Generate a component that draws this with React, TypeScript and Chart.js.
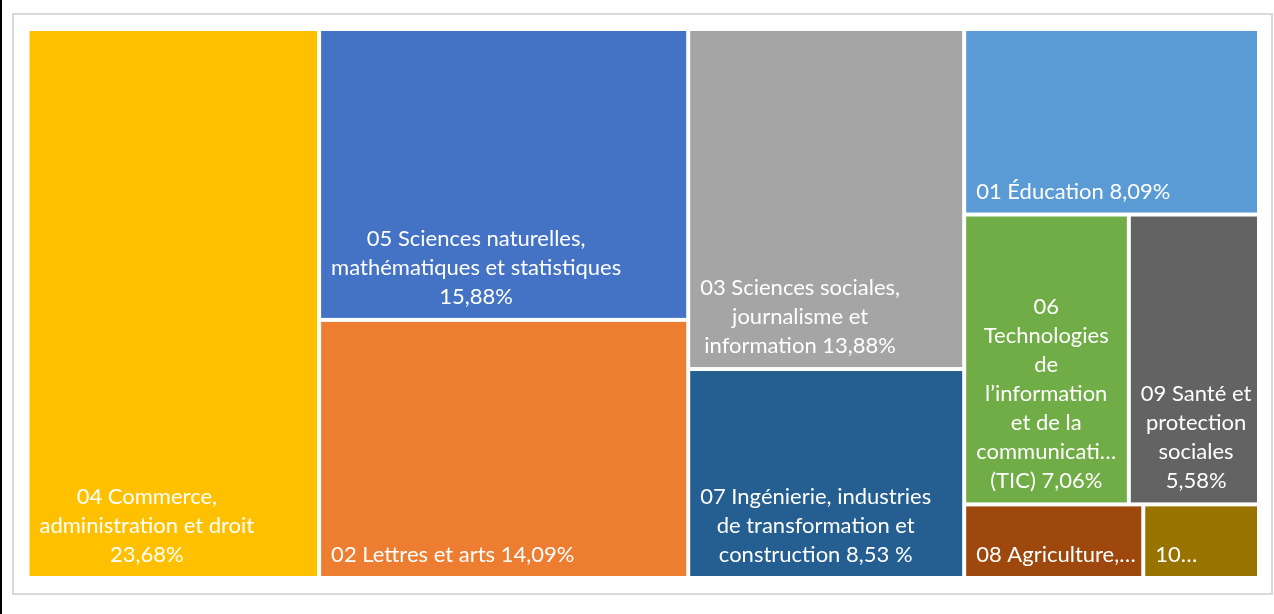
import React, { useEffect, useRef } from "react";
import { Chart, registerables } from "chart.js";

Chart.register(...registerables);

// Categories (ISCED fields) and their shares (%)
const categories = [
  "01 Éducation",
  "02 Lettres et arts",
  "03 Sciences sociales, journalisme et information",
  "04 Commerce, administration et droit",
  "05 Sciences naturelles, mathématiques et statistiques",
  "06 Technologies de l’information et de la communication (TIC)",
  "07 Ingénierie, industries de transformation et construction",
  "08 Agriculture",
  "09 Santé et protection sociales",
  "10",
];
const values = [8.09, 14.09, 13.88, 23.68, 15.88, 7.06, 8.53, 1.95, 5.58, 1.26];
const colors = [
  "#5B9BD5",
  "#ED7D31",
  "#A5A5A5",
  "#FFC000",
  "#4472C4",
  "#70AD47",
  "#255E91",
  "#9E480E",
  "#636363",
  "#997300",
];
// Text lines shown inside each tile
const labelLines = [
  ["01 Éducation 8,09%"],
  ["02 Lettres et arts 14,09%"],
  ["03 Sciences sociales,", "journalisme et", "information 13,88%"],
  ["04 Commerce,", "administration et droit", "23,68%"],
  ["05 Sciences naturelles,", "mathématiques et statistiques", "15,88%"],
  ["06", "Technologies", "de", "l’information", "et de la", "communicati…", "(TIC) 7,06%"],
  ["07 Ingénierie, industries", "de transformation et", "construction 8,53 %"],
  ["08 Agriculture,…"],
  ["09 Santé et", "protection", "sociales", "5,58%"],
  ["10…"],
];
// Treemap grouping: columns -> rows -> category indices
const layoutColumns = [
  [[3]],
  [[4], [1]],
  [[2], [6]],
  [[0], [5, 8], [7, 9]],
];

const FONT = "22px Lato";
const LINE_H = 29;
const GAP = 2;

const treemapPlugin = {
  id: "treemapPlugin",
  beforeDraw(chart: any) {
    const ctx = chart.ctx;
    ctx.save();
    ctx.fillStyle = "#ffffff";
    ctx.fillRect(0, 0, chart.width, chart.height);
    ctx.fillStyle = "#000000";
    ctx.fillRect(0, 0, 2, chart.height);
    ctx.strokeStyle = "#D9D9D9";
    ctx.lineWidth = 2;
    ctx.strokeRect(13, 14, 1259, 580);
    ctx.restore();
  },
  afterDatasetsDraw(chart: any) {
    const ctx = chart.ctx;
    const xs = chart.scales.x;
    const ys = chart.scales.y;
    const sum = (ids: number[]) => ids.reduce((a, i) => a + values[i], 0);
    let xCursor = 0;
    ctx.save();
    for (const col of layoutColumns) {
      const colIds = col.flat();
      const colTotal = sum(colIds);
      const x0 = xCursor;
      const x1 = xCursor + colTotal;
      xCursor = x1;
      let yCursor = 0;
      for (const row of col) {
        const rowTotal = sum(row);
        const y0 = yCursor;
        const y1 = yCursor + rowTotal / colTotal;
        yCursor = y1;
        let rx = x0;
        for (const id of row) {
          const cx0 = rx;
          const cx1 = rx + (colTotal * values[id]) / rowTotal;
          rx = cx1;
          const L = xs.getPixelForValue(cx0) + GAP;
          const R = xs.getPixelForValue(cx1) - GAP;
          const T = ys.getPixelForValue(y0) + GAP;
          const B = ys.getPixelForValue(y1) - GAP;
          ctx.fillStyle = colors[id];
          ctx.fillRect(L, T, R - L, B - T);
          // label
          ctx.font = FONT;
          ctx.fillStyle = "#ffffff";
          ctx.textBaseline = "alphabetic";
          ctx.textAlign = "center";
          const lines = labelLines[id];
          const widths = lines.map((l) => ctx.measureText(l).width);
          const blockW = Math.max(...widths);
          const blockCx = L + 10 + blockW / 2;
          const lastBase = B - 14;
          lines.forEach((line, k) => {
            const yb = lastBase - (lines.length - 1 - k) * LINE_H;
            ctx.fillText(line, blockCx, yb);
          });
        }
      }
    }
    ctx.restore();
  },
};

export default function App() {
  const ref = useRef<HTMLCanvasElement>(null);
  useEffect(() => {
    document.body.style.margin = "0";
    const total = values.reduce((a, b) => a + b, 0);
    const chart = new Chart(ref.current as HTMLCanvasElement, {
      type: "scatter",
      data: { labels: categories, datasets: [{ data: [] }] },
      options: {
        animation: false,
        responsive: true,
        maintainAspectRatio: false,
        layout: { padding: { left: 27.5, top: 29, right: 15, bottom: 36 } },
        plugins: { legend: { display: false }, tooltip: { enabled: false } },
        scales: {
          x: { type: "linear", display: false, min: 0, max: total },
          y: { type: "linear", display: false, min: 0, max: 1, reverse: true },
        },
      },
      plugins: [treemapPlugin],
    } as any);
    return () => chart.destroy();
  }, []);
  return (
    <div style={{ position: "fixed", left: 0, top: 0, width: 1274, height: 614 }}>
      <canvas ref={ref} />
    </div>
  );
}
